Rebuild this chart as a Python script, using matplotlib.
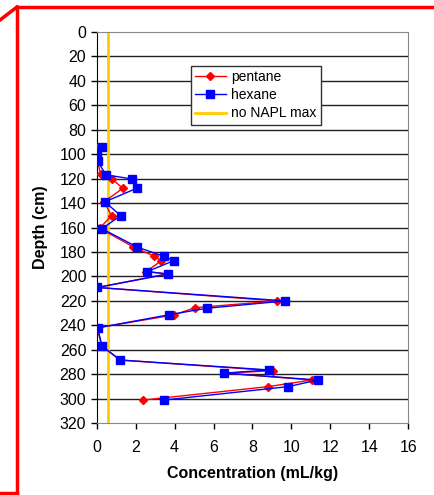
import matplotlib.pyplot as plt
from matplotlib.lines import Line2D

plt.rcParams['font.family'] = ['Liberation Sans', 'DejaVu Sans']

# hexane (blue squares)
hex_depth = [94.5, 98, 106, 117, 120.3, 128, 139, 150.3, 161, 176, 183.5, 187, 196, 198,
             209, 220, 226, 231.3, 242, 256.8, 268.3, 276.4, 279, 284.6, 290, 301]
hex_conc = [0.25, 0.03, 0.05, 0.48, 1.8, 2.05, 0.42, 1.23, 0.27, 2.08, 3.44, 3.97, 2.6, 3.67,
            0.04, 9.69, 5.64, 3.71, 0.05, 0.27, 1.21, 8.86, 6.54, 11.35, 9.84, 3.44]

# pentane (red diamonds)
pen_depth = [95, 98, 106, 116.5, 120.5, 128, 139, 150.3, 160.6, 175.6, 183.5, 187.2, 196, 198,
             209, 220, 225.5, 231.5, 242, 256.8, 268.3, 277, 279, 284.6, 290, 301]
pen_conc = [0.02, 0.02, 0.05, 0.2, 0.8, 1.34, 0.38, 0.76, 0.15, 1.85, 2.96, 3.31, 2.55, 3.6,
            0.02, 9.27, 5.06, 3.95, 0.03, 0.25, 1.2, 9.07, 6.6, 11.04, 8.81, 2.38]

napl_max = 0.6

fig = plt.figure(figsize=(4.35, 4.95), dpi=100)
ax = fig.add_axes([0.2223, 0.1448, 0.9386 - 0.2223, 0.936 - 0.1448])

for y in range(20, 320, 20):
    ax.axhline(y, color='#222222', linewidth=1, zorder=1)

ax.axvline(napl_max, color='#FFCC00', linewidth=2, zorder=2, label='no NAPL max')
ax.plot(pen_conc, pen_depth, color='red', linewidth=1, marker='D', markersize=4,
        zorder=3, label='pentane')
ax.plot(hex_conc, hex_depth, color='blue', linewidth=1, marker='s', markersize=6,
        zorder=4, label='hexane')

ax.set_xlim(0, 16)
ax.set_ylim(320, 0)
ax.set_xticks(range(0, 17, 2))
ax.set_yticks(range(0, 321, 20))
ax.tick_params(labelsize=11.5, direction='out', length=4, width=1, colors='black')
ax.tick_params(axis='x', pad=8)

for s in ['top', 'right', 'bottom']:
    ax.spines[s].set_color('#888888')
ax.spines['left'].set_color('black')

ax.set_xlabel('Concentration (mL/kg)', fontsize=11.5, fontweight='bold', labelpad=8)
ax.set_ylabel('Depth (cm)', fontsize=11.5, fontweight='bold', labelpad=8)

handles = [
    Line2D([], [], color='red', marker='D', markersize=4, linewidth=1),
    Line2D([], [], color='blue', marker='s', markersize=6, linewidth=1),
    Line2D([], [], color='#FFCC00', linewidth=2),
]
leg = ax.legend(handles, ['pentane', 'hexane', 'no NAPL max'], loc='upper left',
                bbox_to_anchor=(191 / 435, 1 - 66 / 495), bbox_transform=fig.transFigure,
                fontsize=10, fancybox=False, framealpha=1, edgecolor='#333333',
                borderpad=0.3, labelspacing=0.3, handlelength=2.2, handletextpad=0.4,
                borderaxespad=0)
leg.get_frame().set_linewidth(1)

# red outline around the chart
W, H = 435, 495
def fig_line(xs, ys):
    fig.add_artist(Line2D([x / W for x in xs], [1 - y / H for y in ys],
                          transform=fig.transFigure, color='red', linewidth=2.5))

fig_line([17, 435], [7, 7])
fig_line([17, 17], [7, 493])
fig_line([0, 17], [20, 7])
fig_line([0, 17], [493, 493])

fig.savefig('out.png', dpi=100)
